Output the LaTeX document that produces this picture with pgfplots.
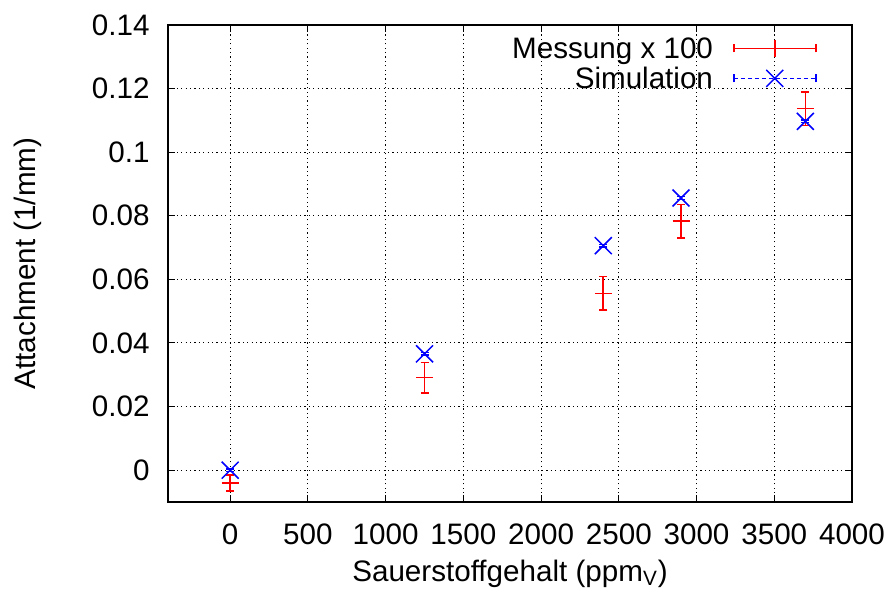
\documentclass[border=0pt]{standalone}
\usepackage{pgfplots}
\pgfplotsset{compat=1.18}
\usepackage{fontspec}
\setmainfont{Liberation Sans}

% extra layer for the opaque key box: above the grid, below ticks and data
\pgfdeclarelayer{keybox}
\pgfplotsset{layers/keyed/.define layer set={axis background,axis grid,keybox,axis ticks,main,axis lines,axis tick labels,axis descriptions,axis foreground}{}}

% measured attachment (scaled by 100) with its uncertainty
\pgfplotstableread{
x     y       e
0    -0.0040  0.0025
1250  0.0291  0.0048
2400  0.0556  0.0053
2900  0.0783  0.0053
3700  0.1137  0.0053
}\messung

% simulated attachment
\pgfplotstableread{
x     y       e
0     0.0000  0.0004
1250  0.0366  0.0004
2400  0.0706  0.0004
2900  0.0856  0.0004
3700  0.1097  0.0004
}\simulation

\begin{document}
\fontsize{14.8}{17.8}\selectfont
\begin{tikzpicture}[font=\fontsize{14.8}{17.8}\selectfont]
\begin{axis}[
  set layers=keyed,
  at={(0,0)}, anchor=south west,
  scale only axis, width=342pt, height=238.5pt,
  xmin=-400, xmax=4000, ymin=-0.01, ymax=0.14,
  xtick={0,500,1000,1500,2000,2500,3000,3500,4000},
  ytick={0,0.02,0.04,0.06,0.08,0.1,0.12,0.14},
  /pgf/number format/assume math mode=true,
  x tick label style={/pgf/number format/set thousands separator={}},
  y tick label style={/pgf/number format/fixed,/pgf/number format/precision=2},
  xticklabel style={anchor=base, inner sep=0pt, yshift=-21pt},
  yticklabel style={anchor=east, inner sep=0pt, xshift=-9pt},
  grid=major,
  major grid style={black, line width=0.5pt, dash pattern=on 0.6pt off 1.6pt},
  tick align=inside, major tick length=3.5pt,
  tick style={black, line width=0.5pt},
  axis line style={black, line width=1.1pt},
  xlabel={Sauerstoffgehalt (ppm\textsubscript{V})},
  ylabel={Attachment (1/mm)},
  xlabel style={at={(axis description cs:0.5,-0.166)}, anchor=base},
  ylabel style={at={(axis description cs:-0.2047,0.5)}, anchor=center},
  legend cell align=right, legend plot pos=right,
  legend style={at={(0.9488,0.974)}, anchor=north east, draw=none, fill=none,
    inner sep=0pt, column sep=10pt, row sep=4.4pt,
    nodes={inner sep=0pt, text height=10.6pt, text depth=0pt}},
]
\addplot[red, line width=0.8pt, only marks, mark=+, mark size=4.25pt,
  legend image code/.code={
    \draw[red, line width=0.8pt] (0pt,0pt) -- (41pt,0pt)
      (0pt,-2pt) -- (0pt,2pt) (41pt,-2pt) -- (41pt,2pt);
    \draw[red, line width=0.8pt, mark=+, mark size=4.25pt] plot coordinates {(20.5pt,0pt)};
  },
  error bars/.cd, y dir=both, y explicit,
  error bar style={red, line width=0.8pt, solid},
  error mark options={red, line width=0.8pt, mark size=2pt, rotate=90}]
  table[x=x, y=y, y error=e] {\messung};
\addlegendentry{Messung x 100}

\addplot[blue, line width=0.75pt, only marks, mark=x, mark size=6pt,
  legend image code/.code={
    \draw[blue, line width=0.75pt, dash pattern=on 2pt off 1.5pt] (0pt,0pt) -- (41pt,0pt);
    \draw[blue, line width=0.75pt] (0pt,-2pt) -- (0pt,2pt) (41pt,-2pt) -- (41pt,2pt);
    \draw[blue, line width=0.75pt, mark=x, mark size=6pt] plot coordinates {(20.5pt,0pt)};
  },
  error bars/.cd, y dir=both, y explicit,
  error bar style={blue, line width=0.75pt, solid},
  error mark options={blue, line width=0.75pt, mark size=2pt, rotate=90}]
  table[x=x, y=y, y error=e] {\simulation};
\addlegendentry{Simulation}

% opaque key box hiding the grid behind the legend
\pgfplotsextra{%
  \begin{pgfonlayer}{keybox}
    \fill[white] (rel axis cs:0.4576,0.857) rectangle (rel axis cs:0.972,1);
  \end{pgfonlayer}}
\end{axis}
% page margins around the plot
\path (-84pt,-45.5pt) rectangle (362.5pt,251pt);
\end{tikzpicture}
\end{document}
